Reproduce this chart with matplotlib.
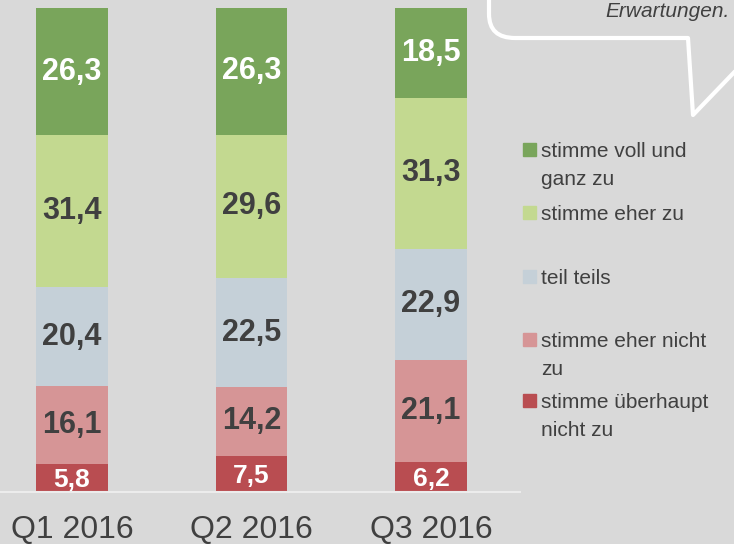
import numpy as np
import matplotlib.pyplot as plt
from matplotlib.patches import Rectangle, PathPatch
from matplotlib.path import Path

plt.rcParams['font.family'] = ['Liberation Sans', 'DejaVu Sans']

quarters = ['Q1 2016', 'Q2 2016', 'Q3 2016']
# bottom to top
categories = ['stimme überhaupt\nnicht zu', 'stimme eher nicht\nzu', 'teil teils',
              'stimme eher zu', 'stimme voll und\nganz zu']
ueberhaupt_nicht = [5.8, 7.5, 6.2]
eher_nicht = [16.1, 14.2, 21.1]
teils = [20.4, 22.5, 22.9]
eher = [31.4, 29.6, 31.3]
voll = [26.3, 26.3, 18.5]
series = [ueberhaupt_nicht, eher_nicht, teils, eher, voll]

colors = ['#b94d51', '#d69596', '#c5d0d8', '#c3d990', '#79a55b']
label_colors = ['white', '#404040', '#404040', '#404040', 'white']
bg = '#d9d9d9'
W, H = 734, 544

fig = plt.figure(figsize=(W / 100, H / 100), dpi=100, facecolor=bg)
ax = fig.add_axes([0, 52 / H, 520 / W, (492 - 8) / H])
ax.set_facecolor(bg)

x = np.arange(len(quarters))
bottom = np.zeros(len(quarters))
for vals, col, lcol in zip(series, colors, label_colors):
    vals = np.array(vals)
    ax.bar(x, vals, 0.396, bottom=bottom, color=col, edgecolor='none')
    small = vals.max() < 10
    for xi, b, v in zip(x, bottom, vals):
        ax.text(xi, b + v / 2 - (0.4 if small else 0), f'{v:.1f}'.replace('.', ','),
                ha='center', va='center', fontsize=19 if small else 22,
                fontweight='bold', color=lcol)
    bottom += vals

ax.set_xlim(-0.401, 2.496)
ax.set_ylim(0, 100)
ax.set_yticks([])
ax.set_xticks(x)
ax.set_xticklabels(quarters, fontsize=23, color='#404040')
ax.tick_params(axis='x', length=0, pad=16.5)
for s in ['top', 'right', 'left']:
    ax.spines[s].set_visible(False)
ax.spines['bottom'].set_color('#ececec')
ax.spines['bottom'].set_linewidth(1.5)

# legend drawn by hand (top entry first)
def fx(px):
    return px / W

def fy(py):
    return 1 - py / H

baselines = [157, 220, 284, 347, 408]
for i, (lab, col) in enumerate(zip(categories[::-1], colors[::-1])):
    bl = baselines[i]
    fig.patches.append(Rectangle((fx(523), fy(bl - 1)), 13 / W, 13 / H,
                                 transform=fig.transFigure, color=col))
    for j, line in enumerate(lab.split('\n')):
        fig.text(fx(541), fy(bl + 28 * j), line, fontsize=15, color='#404040',
                 va='baseline', ha='left')

# speech bubble outline
verts = [(489, -5), (489, 14), (489, 38), (515, 38), (688, 38), (693, 115), (745, 61)]
codes = [Path.MOVETO, Path.LINETO, Path.CURVE3, Path.CURVE3, Path.LINETO,
         Path.LINETO, Path.LINETO]
bubble = Path([(fx(a), fy(b)) for a, b in verts], codes)
fig.patches.append(PathPatch(bubble, transform=fig.transFigure, fill=False,
                             edgecolor='white', lw=3, capstyle='round',
                             joinstyle='round'))
fig.text(fx(730), fy(17), 'Erwartungen.', fontsize=15, style='italic',
         color='#404040', ha='right', va='baseline')

# page number, mostly below the bottom edge as in the original
fig.text(fx(686), fy(556), '11', fontsize=12, color='#808080', ha='center',
         va='baseline')

fig.savefig('out.png', dpi=100, facecolor=bg)
